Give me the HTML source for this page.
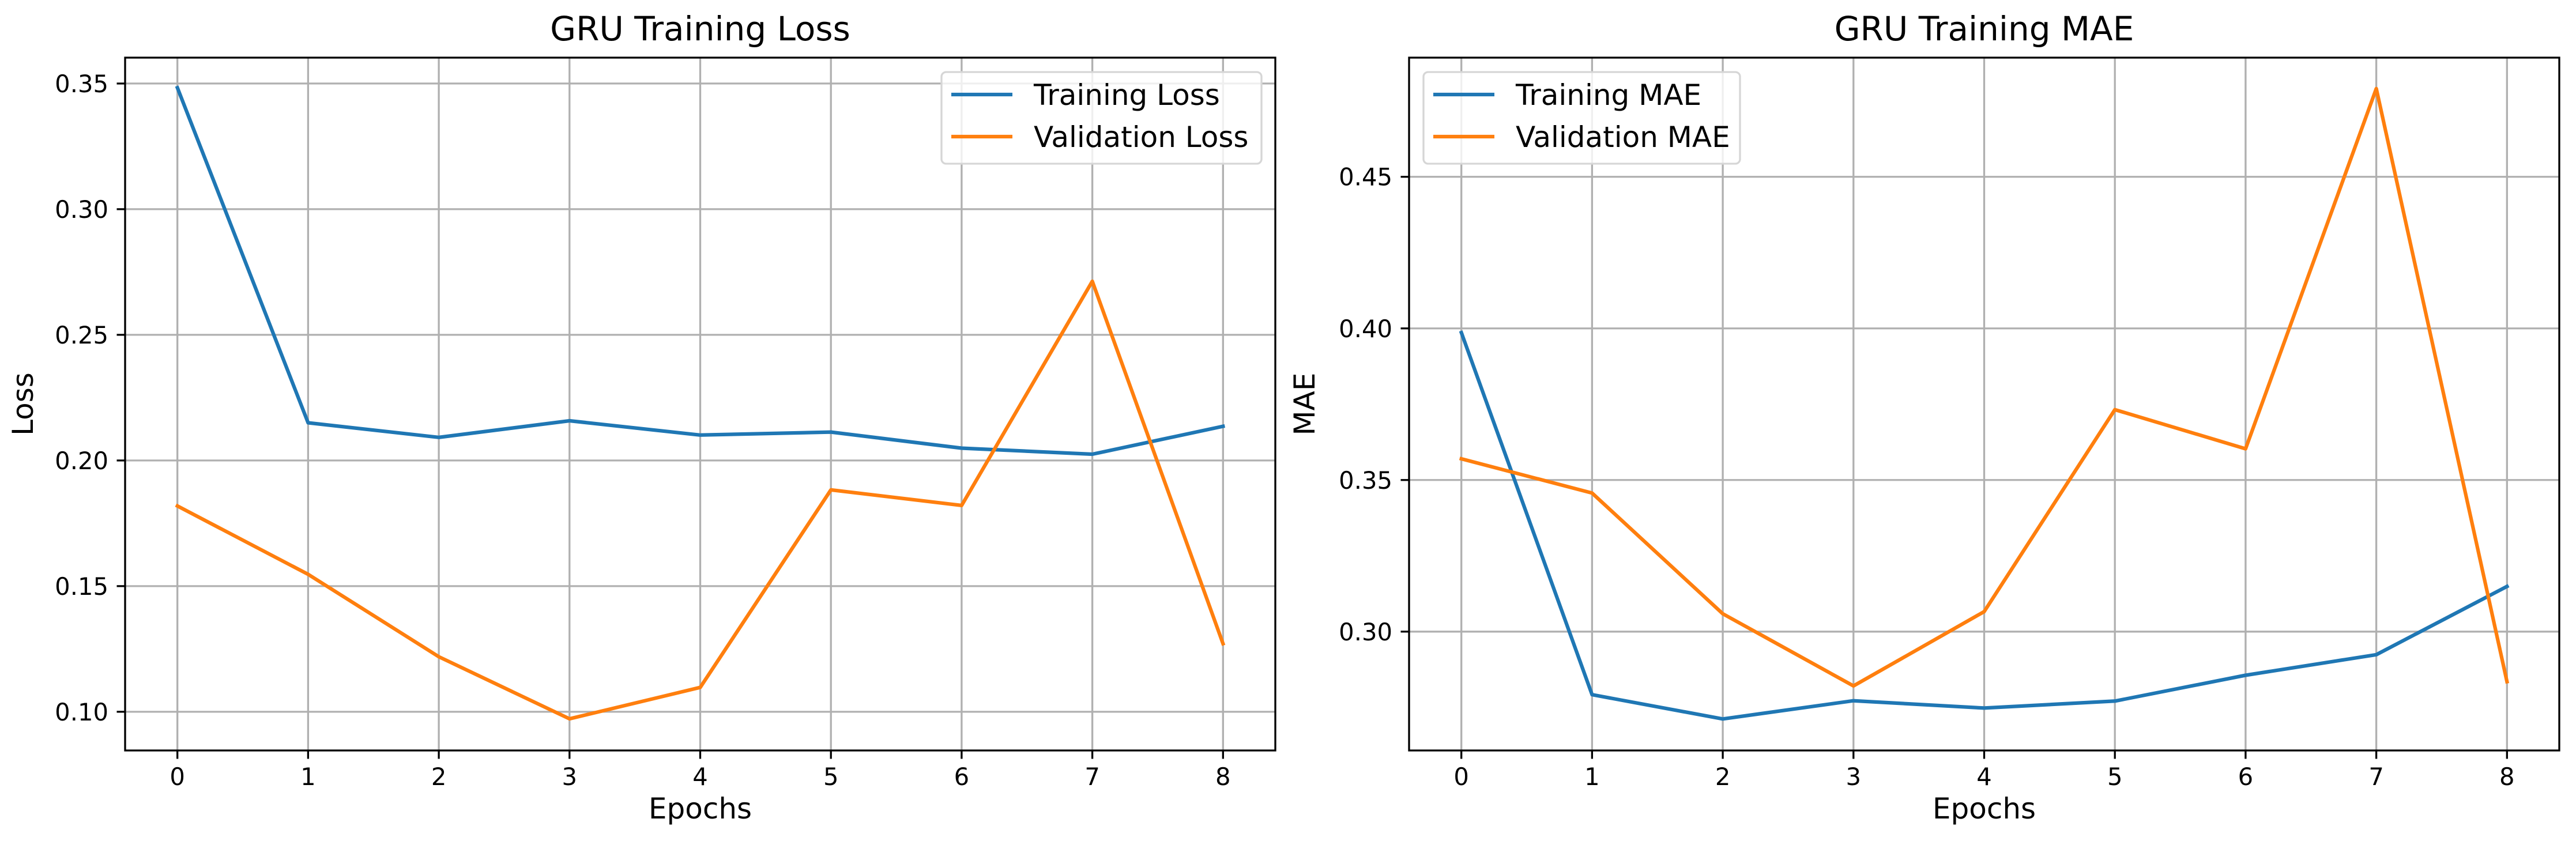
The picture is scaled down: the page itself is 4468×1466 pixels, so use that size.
<!DOCTYPE html>
<html><head><meta charset="utf-8"><style>
html,body{margin:0;padding:0;background:#fff;}
svg{display:block;font-family:"DejaVu Sans","Liberation Sans",sans-serif;}
</style></head><body>
<svg id="chart" width="4468" height="1466" viewBox="0 0 4468 1466" xmlns="http://www.w3.org/2000/svg">
<rect width="4468" height="1466" fill="#fff"/>
</svg>
<script>
const epochs = [0,1,2,3,4,5,6,7,8];
const lossTrain = [0.3483,0.2150,0.2092,0.2158,0.2101,0.2113,0.2049,0.2025,0.2136];
const lossVal = [0.1819,0.1547,0.1219,0.0972,0.1097,0.1883,0.1821,0.2713,0.1271];
const maeTrain = [0.3986,0.2792,0.2712,0.2772,0.2748,0.2771,0.2856,0.2924,0.3149];
const maeVal = [0.3570,0.3457,0.3059,0.2821,0.3066,0.3732,0.3603,0.4791,0.2835];
const lossTicks = [0.10,0.15,0.20,0.25,0.30,0.35];
const maeTicks = [0.30,0.35,0.40,0.45];

const NS = "http://www.w3.org/2000/svg";
const svg = document.getElementById('chart');
function mk(tag, attrs, parent){
  const e = document.createElementNS(NS, tag);
  for (const k in attrs) e.setAttribute(k, attrs[k]);
  (parent||svg).appendChild(e);
  return e;
}

function panel(cfg){
  const g = mk('g', {});
  
  
  const L = cfg.left, R = cfg.left + 1995, T = 100, B = 1302;
  const xmin = Math.min(...epochs), xmax = Math.max(...epochs);
  const pad = (xmax - xmin) * 0.05;
  const xs = v => L + (v - (xmin - pad)) / ((xmax + pad) - (xmin - pad)) * (R - L);
  const ys = v => B - (v - cfg.ymin) / (cfg.ymax - cfg.ymin) * (B - T);
  epochs.forEach(e => {
    const l = mk('line', {x1: xs(e), x2: xs(e), y1: T, y2: B, stroke: '#b0b0b0', 'stroke-width': 3.3}, g);
    
    
  });
  cfg.ticks.forEach(t => {
    const l = mk('line', {x1: L, x2: R, y1: ys(t), y2: ys(t), stroke: '#b0b0b0', 'stroke-width': 3.3}, g);
    
    
  });
  cfg.series.forEach(s => {
    const pts = s.data.map((v, i) => xs(epochs[i]).toFixed(1) + ',' + ys(v).toFixed(1)).join(' ');
    const p = mk('polyline', {points: pts, fill: 'none', stroke: s.color, 'stroke-width': 6.25, 'stroke-linejoin': 'round', 'stroke-linecap': 'square'}, g);
    
    
  });
  const sp = mk('rect', {x: L, y: T, width: R - L, height: B - T, fill: 'none', stroke: '#000', 'stroke-width': 3.3}, g);
  
  
  epochs.forEach(e => {
    mk('line', {x1: xs(e), x2: xs(e), y1: B, y2: B + 14.5, stroke: '#000', 'stroke-width': 3.3}, g);
    const t = mk('text', {x: xs(e), y: B + 60, 'font-size': 41.7, 'text-anchor': 'middle', fill: '#000'}, g);
    t.textContent = String(e);
    
    
  });
  cfg.ticks.forEach(v => {
    mk('line', {x1: L - 14.5, x2: L, y1: ys(v), y2: ys(v), stroke: '#000', 'stroke-width': 3.3}, g);
    const t = mk('text', {x: L - 29, y: ys(v) + 15, 'font-size': 41.7, 'text-anchor': 'end', fill: '#000'}, g);
    t.textContent = v.toFixed(2);
    
    
  });
  const ti = mk('text', {x: (L + R) / 2, y: 70, 'font-size': 58, 'text-anchor': 'middle', fill: '#000'}, g);
  ti.textContent = cfg.title;
  
  
  const xl = mk('text', {x: (L + R) / 2, y: 1420, 'font-size': 50, 'text-anchor': 'middle', fill: '#000'}, g);
  xl.textContent = 'Epochs';
  
  
  const yx = cfg.left - cfg.ylabOff, yy = (T + B) / 2;
  const yl = mk('text', {x: yx, y: yy, 'font-size': 50, 'text-anchor': 'middle', fill: '#000', transform: 'rotate(-90 ' + yx + ' ' + yy + ')'}, g);
  yl.textContent = cfg.ylabel;
  
  
  const lg = mk('g', {}, g);
  
  
  mk('rect', {x: cfg.legX, y: 125, width: cfg.legW, height: 159, rx: 8, fill: 'rgba(255,255,255,0.8)', stroke: '#d6d6d6', 'stroke-width': 3.3}, lg);
  cfg.series.forEach((s, i) => {
    const y = 164 + i * 73;
    const h = mk('line', {x1: cfg.legX + 17, x2: cfg.legX + 123, y1: y, y2: y, stroke: s.color, 'stroke-width': 6.25}, lg);
    
    
    const t = mk('text', {x: cfg.legX + 160, y: y + 18, 'font-size': 50, fill: '#000'}, lg);
    t.textContent = s.label;
    
    
  });
}

panel({name: 'loss-panel', left: 217, ymin: 0.0846, ymax: 0.3603, ticks: lossTicks,
  title: 'GRU Training Loss', ylabel: 'Loss', ylabOff: 160, legX: 1633, legW: 555,
  series: [{id: 'training-loss-line', label: 'Training Loss', data: lossTrain, color: '#1f77b4'},
           {id: 'validation-loss-line', label: 'Validation Loss', data: lossVal, color: '#ff7f0e'}]});
panel({name: 'mae-panel', left: 2444, ymin: 0.2608, ymax: 0.4893, ticks: maeTicks,
  title: 'GRU Training MAE', ylabel: 'MAE', ylabOff: 164, legX: 2469, legW: 549,
  series: [{id: 'training-mae-line', label: 'Training MAE', data: maeTrain, color: '#1f77b4'},
           {id: 'validation-mae-line', label: 'Validation MAE', data: maeVal, color: '#ff7f0e'}]});
</script>
</body></html>
